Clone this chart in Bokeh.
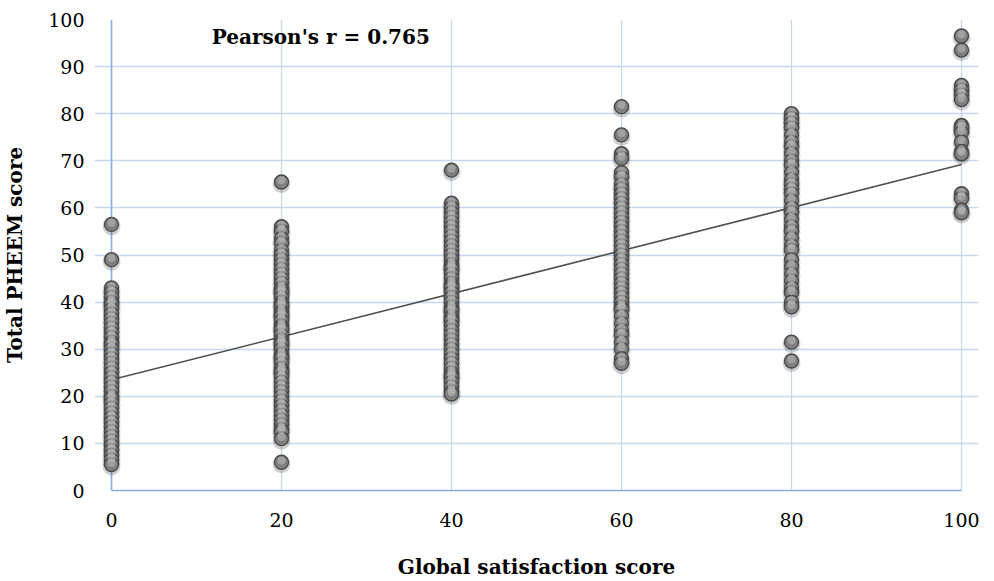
from bokeh.plotting import figure
from bokeh.models import Label, FixedTicker
from bokeh.embed import file_html
from bokeh.resources import INLINE

# ---- data ----
x_levels = [0, 20, 40, 60, 80, 100]
col_0 = [56.5, 49, 43, 42, 41, 40, 39.5, 38.5, 37.5, 36.5, 35.5, 34.5, 33.5, 32.5,
         31.5, 31, 30, 29, 28, 27, 26, 25, 24, 23, 22, 21, 20, 19.5, 18.5, 17.5,
         16.5, 15.5, 14.5, 13.5, 12.5, 11.5, 10.5, 9.5, 8.5, 7.5, 6.5, 5.5]
col_20 = [65.5, 56, 55, 53.5, 52.5, 51, 50, 49, 48, 47, 46, 45, 44, 43, 42.5, 42,
          41, 40, 39.5, 39, 38, 37.5, 37, 36, 35, 34.5, 34, 33, 32, 31.5, 31, 30,
          29, 28.5, 28, 27, 26, 25.5, 25, 24, 23, 22, 21, 20, 19, 18, 17, 16, 15,
          14, 13, 12.5, 11, 6]
col_40 = [68, 61, 60, 59, 58, 57, 56, 55, 54, 53, 52, 51, 50, 49, 48, 47.5, 47, 46,
          45, 44, 43.5, 43, 42, 41, 40, 39, 38.5, 38, 37, 36.5, 36, 35, 34, 33, 32,
          31, 30, 29, 28, 27, 26, 25, 24.5, 24, 23, 22, 21, 20.5]
col_60 = [81.5, 75.5, 71.5, 70.5, 67.5, 66.5, 65, 64, 63, 62, 61, 60, 59, 58, 57,
          56, 55, 54, 53, 52, 51, 50, 49, 48, 47, 46, 45, 44, 43, 42, 41, 40, 39,
          38.5, 37, 35.5, 34, 33, 31.5, 30, 28, 27]
col_80 = [80, 79, 78, 77, 75.5, 74, 73, 71.5, 70, 69, 67.5, 66, 65, 64, 63, 61.5,
          60, 59, 57.5, 56, 55, 53.5, 52, 51, 49, 47.5, 46, 44.5, 43, 42, 40, 39,
          31.5, 27.5]
col_100 = [96.5, 93.5, 86, 85, 84, 83, 77.5, 77, 76, 74, 72, 71.5, 63, 62, 59.5, 59]
columns = [col_0, col_20, col_40, col_60, col_80, col_100]

fit_intercept = 23.5
fit_slope = 0.457

x_ticks = [0, 20, 40, 60, 80, 100]
y_ticks = [0, 10, 20, 30, 40, 50, 60, 70, 80, 90, 100]

FONT = "DejaVu Serif"
GRID = "#c6d8ef"
AXIS = "#8cb0dd"

xs, ys = [], []
for xv, col in zip(x_levels, columns):
    xs.extend([xv] * len(col))
    ys.extend(col)

p = figure(width=994, height=581, output_backend="svg", toolbar_location=None,
           x_range=(-2, 102), y_range=(0, 100),
           min_border_left=94, min_border_right=16, min_border_top=19,
           min_border_bottom=87)
p.outline_line_color = None
p.background_fill_color = "white"
p.border_fill_color = "white"

# grids
p.xgrid.ticker = FixedTicker(ticks=x_ticks)
p.ygrid.ticker = FixedTicker(ticks=y_ticks)
for g in (p.xgrid, p.ygrid):
    g.grid_line_color = GRID
    g.grid_line_width = 1.3
    g.bounds = (0, 100)

# axes
p.xaxis.ticker = FixedTicker(ticks=x_ticks)
p.yaxis.ticker = FixedTicker(ticks=y_ticks)
for ax in (p.xaxis, p.yaxis):
    ax.major_tick_line_color = None
    ax.minor_tick_line_color = None
    ax.major_label_text_font = FONT
    ax.major_label_text_font_size = "19px"
    ax.major_label_text_color = "black"
    ax.axis_label_text_font = FONT
    ax.axis_label_text_font_size = "20px"
    ax.axis_label_text_font_style = "bold"
    ax.axis_label_text_color = "black"
p.xaxis.axis_line_color = AXIS
p.xaxis.axis_line_width = 1.6
p.xaxis.bounds = (0, 100)
p.yaxis.axis_line_color = None
p.xaxis.major_label_standoff = 16
p.yaxis.major_label_standoff = 4
p.xaxis.axis_label = "Global satisfaction score"
p.yaxis.axis_label = "Total PHEEM score"
p.xaxis.axis_label_standoff = 25
p.yaxis.axis_label_standoff = 18

# left axis line at x = 0
p.segment(x0=[0], y0=[0], x1=[0], y1=[100], line_color=AXIS, line_width=1.6)

# regression line
p.line(x=[x_levels[0], x_levels[-1]],
       y=[fit_intercept + fit_slope * x_levels[0], fit_intercept + fit_slope * x_levels[-1]],
       line_color="#505050", line_width=1.6)

# markers: soft shadow + body + highlight
p.scatter(x=xs, y=[v - 0.4 for v in ys], size=18, fill_color="#2a2a2a",
          fill_alpha=0.22, line_color=None)
p.scatter(x=xs, y=ys, size=14, fill_color="#7f7f7f", line_color="#474747",
          line_width=1.3)
p.scatter(x=xs, y=[v + 0.35 for v in ys], size=8, fill_color="#b8b8b8",
          fill_alpha=0.6, line_color=None)

p.add_layout(Label(x=11.8, y=96.2, text="Pearson's r = 0.765", text_font=FONT,
                   text_font_size="20px", text_font_style="bold",
                   text_baseline="middle", text_color="black"))

open("out.html", "w").write(file_html(p, INLINE))
